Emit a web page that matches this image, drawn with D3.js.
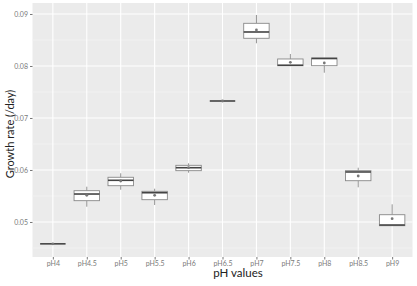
<!DOCTYPE html>
<html>
<head>
<meta charset="utf-8">
<script src="https://cdn.jsdelivr.net/npm/d3@7"></script>
<style>
  html, body { margin: 0; padding: 0; background: #fff; }
  svg { display: block; }
</style>
</head>
<body>
<svg id="chart" width="417" height="286"></svg>
<script>
// ---- data ----
const categories = ["pH4","pH4.5","pH5","pH5.5","pH6","pH6.5","pH7","pH7.5","pH8","pH8.5","pH9"];
const whiskerLow  = [0.0458, 0.05294, 0.05621, 0.05327, 0.05948, 0.07327, 0.08437, 0.08005, 0.07871, 0.05667, 0.04929];
const q1          = [0.0458, 0.05410, 0.05698, 0.05429, 0.05987, 0.07327, 0.08533, 0.08005, 0.08006, 0.05794, 0.04929];
const median      = [0.0458, 0.05538, 0.05802, 0.05563, 0.06044, 0.07327, 0.08654, 0.08015, 0.08144, 0.05962, 0.04942];
const q3          = [0.0458, 0.05602, 0.05860, 0.05590, 0.06090, 0.07327, 0.08821, 0.08135, 0.08154, 0.05987, 0.05140];
const whiskerHigh = [0.0458, 0.05679, 0.05937, 0.05640, 0.06129, 0.07327, 0.08981, 0.08231, 0.08154, 0.06044, 0.05340];
const means       = [0.0458, 0.05513, 0.05788, 0.05513, 0.06044, 0.07327, 0.08692, 0.08071, 0.08058, 0.05885, 0.05063];
const yTicks = [0.05, 0.06, 0.07, 0.08, 0.09];
const yMinorTicks = [0.045, 0.055, 0.065, 0.075, 0.085];
const xTitle = "pH values";
const yTitle = "Growth rate (/day)";

// ---- layout ----
const panel = { left: 32.5, right: 412.5, top: 3, bottom: 257 };
const svg = d3.select("#chart");

const x = d3.scalePoint().domain(categories).range([panel.left, panel.right]).padding(0.6);
const y = d3.scaleLinear().domain([0.043269, 0.092115]).range([panel.bottom, panel.top]);
const boxW = x.step() * 0.75;

// panel background
svg.append("rect")
  .attr("x", panel.left).attr("y", panel.top)
  .attr("width", panel.right - panel.left).attr("height", panel.bottom - panel.top)
  .attr("fill", "#ebebeb");

// minor grid
svg.append("g").selectAll("line").data(yMinorTicks).join("line")
  .attr("x1", panel.left).attr("x2", panel.right)
  .attr("y1", d => y(d)).attr("y2", d => y(d))
  .attr("stroke", "#f5f5f5").attr("stroke-width", 0.6);

// major grid
svg.append("g").selectAll("line").data(yTicks).join("line")
  .attr("x1", panel.left).attr("x2", panel.right)
  .attr("y1", d => y(d)).attr("y2", d => y(d))
  .attr("stroke", "#ffffff").attr("stroke-width", 1.1);
svg.append("g").selectAll("line").data(categories).join("line")
  .attr("y1", panel.top).attr("y2", panel.bottom)
  .attr("x1", d => x(d)).attr("x2", d => x(d))
  .attr("stroke", "#ffffff").attr("stroke-width", 1.1);

// axes
const yAxis = d3.axisLeft(y).tickValues(yTicks).tickFormat(d3.format(".2f")).tickSize(2.5).tickPadding(2);
const gy = svg.append("g").attr("transform", `translate(${panel.left},0)`).call(yAxis);
gy.select(".domain").remove();
gy.selectAll("line").attr("stroke", "#777");
gy.selectAll("text").attr("fill", "#7a7a7a").style("font-family", "Lato, 'Liberation Sans', sans-serif").style("font-size", "7px");

const xAxis = d3.axisBottom(x).tickSize(2.5).tickPadding(2);
const gx = svg.append("g").attr("transform", `translate(0,${panel.bottom})`).call(xAxis);
gx.select(".domain").remove();
gx.selectAll("line").attr("stroke", "#777");
gx.selectAll("text").attr("fill", "#7a7a7a").style("font-family", "Lato, 'Liberation Sans', sans-serif").style("font-size", "7px");

// boxplots
const rows = categories.map((c, i) => ({
  c, lo: whiskerLow[i], q1: q1[i], med: median[i], q3: q3[i], hi: whiskerHigh[i], mean: means[i]
}));
const g = svg.append("g").selectAll("g").data(rows).join("g");
g.append("line")
  .attr("x1", d => x(d.c)).attr("x2", d => x(d.c))
  .attr("y1", d => y(d.hi)).attr("y2", d => y(d.q3))
  .attr("stroke", "#888").attr("stroke-width", 0.9);
g.append("line")
  .attr("x1", d => x(d.c)).attr("x2", d => x(d.c))
  .attr("y1", d => y(d.q1)).attr("y2", d => y(d.lo))
  .attr("stroke", "#888").attr("stroke-width", 0.9);
g.append("rect")
  .attr("x", d => x(d.c) - boxW / 2).attr("width", boxW)
  .attr("y", d => y(d.q3)).attr("height", d => Math.max(0, y(d.q1) - y(d.q3)))
  .attr("fill", "#ffffff").attr("stroke", "#888").attr("stroke-width", 0.9);
g.append("line")
  .attr("x1", d => x(d.c) - boxW / 2).attr("x2", d => x(d.c) + boxW / 2)
  .attr("y1", d => y(d.med)).attr("y2", d => y(d.med))
  .attr("stroke", "#444").attr("stroke-width", 1.6);
g.append("circle")
  .attr("cx", d => x(d.c)).attr("cy", d => y(d.mean)).attr("r", 1.4)
  .attr("fill", "#777");

// titles
svg.append("text")
  .attr("x", 238).attr("y", 277)
  .attr("text-anchor", "middle")
  .style("font-family", "Lato, 'Open Sans', sans-serif").style("font-size", "11.5px")
  .attr("fill", "#222")
  .text(xTitle);
svg.append("text")
  .attr("transform", "translate(14,134) rotate(-90)")
  .attr("text-anchor", "middle")
  .style("font-family", "Lato, 'Open Sans', sans-serif").style("font-size", "11px")
  .attr("fill", "#222")
  .text(yTitle);
</script>
</body>
</html>
